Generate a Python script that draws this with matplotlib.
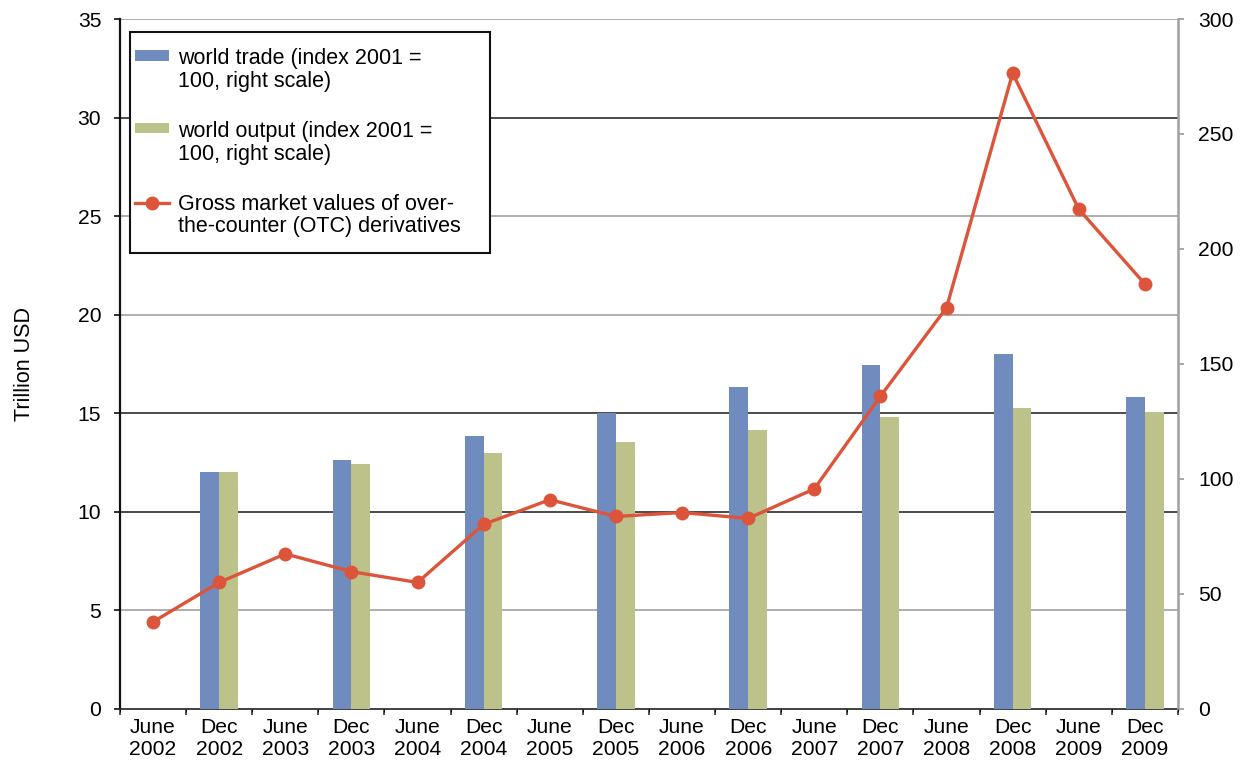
import numpy as np
import matplotlib
matplotlib.use("Agg")
import matplotlib.pyplot as plt
from matplotlib.lines import Line2D
from matplotlib.patches import Patch, Rectangle
from matplotlib.legend_handler import HandlerBase

plt.rcParams["font.family"] = ["Liberation Sans", "DejaVu Sans"]

# Half-year periods on the category axis
periods = ["June\n2002", "Dec\n2002", "June\n2003", "Dec\n2003", "June\n2004", "Dec\n2004",
           "June\n2005", "Dec\n2005", "June\n2006", "Dec\n2006", "June\n2007", "Dec\n2007",
           "June\n2008", "Dec\n2008", "June\n2009", "Dec\n2009"]

# Gross market values of OTC derivatives, trillion USD (left scale)
otc_values = [4.4, 6.4, 7.85, 6.95, 6.4, 9.35, 10.6, 9.75,
              9.95, 9.65, 11.15, 15.85, 20.35, 32.25, 25.35, 21.55]

# Annual indices (2001 = 100), reported for December only (right scale)
nan = np.nan
world_trade = [nan, 102.9, nan, 108.1, nan, 118.6, nan, 128.6,
               nan, 139.7, nan, 149.6, nan, 154.3, nan, 135.6]
world_output = [nan, 102.9, nan, 106.4, nan, 111.0, nan, 115.8,
                nan, 121.0, nan, 127.0, nan, 130.9, nan, 129.0]

left_ticks = [0, 5, 10, 15, 20, 25, 30, 35]
right_ticks = [0, 50, 100, 150, 200, 250, 300]
dark_grid = {10, 15, 30}

BLUE = "#708CBE"
GREEN = "#BDC28B"
RED = "#DC553A"
FS = 15.2
KEY_X0 = -0.51   # key starts slightly left of its slot (in font sizes)
KEY_W = 1.58     # key length (in font sizes)


class FirstLinePatch(HandlerBase):
    """Legend key drawn as a flat bar beside the first line of a two-line label."""
    def create_artists(self, legend, orig_handle, xdescent, ydescent,
                       width, height, fontsize, trans):
        h = 0.47 * fontsize
        yc = 1.05 * fontsize
        r = Rectangle((KEY_X0 * fontsize, yc - h / 2), KEY_W * fontsize, h,
                      facecolor=orig_handle.get_facecolor(), edgecolor="none",
                      transform=trans)
        return [r]


class FirstLineMarker(HandlerBase):
    """Line-and-marker key beside the first line of a two-line label."""
    def create_artists(self, legend, orig_handle, xdescent, ydescent,
                       width, height, fontsize, trans):
        yc = 0.97 * fontsize
        x0 = KEY_X0 * fontsize
        x1 = x0 + KEY_W * fontsize
        ln = Line2D([x0, x1], [yc, yc],
                    color=orig_handle.get_color(), lw=orig_handle.get_linewidth(),
                    transform=trans)
        mk = Line2D([(x0 + x1) / 2], [yc], marker="o", ls="none",
                    ms=orig_handle.get_markersize(), color=orig_handle.get_color(),
                    transform=trans)
        return [ln, mk]


fig = plt.figure(figsize=(12.41, 7.63), dpi=100)
rect = [0.0967, 0.0714, 0.8525, 0.9036]

# Base axes: left scale, grid lines
ax = fig.add_axes(rect)
x = np.arange(len(periods))
ax.set_xlim(-0.5, len(periods) - 0.5)
ax.set_ylim(0, 35)
ax.set_yticks(left_ticks)
for v in left_ticks[1:]:
    ax.axhline(v, color="#3c3c3c" if v in dark_grid else "#a8a8a8",
               lw=1.3, zorder=0)

# Bars on the right-hand index scale
ax2 = ax.twinx()
ax2.set_ylim(0, 300)
ax2.set_yticks(right_ticks)
w = 0.283
ax2.bar(x - w / 2, world_trade, width=w, color=BLUE, zorder=2)
ax2.bar(x + w / 2, world_output, width=w, color=GREEN, zorder=2)

# Derivatives line on top, sharing the left scale
ax3 = fig.add_axes(rect, sharex=ax, sharey=ax, frameon=False)
ax3.plot(x, otc_values, color=RED, lw=2.4, marker="o", ms=9, zorder=3)
ax3.tick_params(left=False, bottom=False, labelleft=False, labelbottom=False)

# Category axis: labels centred, tick marks on boundaries
ax.set_xticks(x)
ax.set_xticklabels(periods, fontsize=FS, linespacing=1.2)
ax.set_xticks(np.arange(-0.5, len(periods)), minor=True)
ax.tick_params(axis="x", which="major", length=0, pad=7)
ax.tick_params(axis="x", which="minor", length=4, width=1.2, color="#333333")
ax.tick_params(axis="y", labelsize=FS, length=4.5, width=1.3, color="#222222", pad=9)
ax2.tick_params(axis="y", labelsize=FS, length=4.5, width=1.3, color="#a0a0a0", pad=10)

for a in (ax, ax2):
    a.spines["top"].set_visible(False)
ax.spines["left"].set_linewidth(1.6)
ax.spines["left"].set_color("#111111")
ax.spines["bottom"].set_linewidth(1.3)
ax.spines["bottom"].set_color("#333333")
ax.spines["right"].set_visible(False)
ax2.spines["left"].set_visible(False)
ax2.spines["bottom"].set_visible(False)
ax2.spines["right"].set_color("#a0a0a0")
ax2.spines["right"].set_linewidth(1.8)

ax.set_ylabel("Trillion USD", fontsize=15.5, labelpad=31)

handles = [
    Patch(color=BLUE),
    Patch(color=GREEN),
    Line2D([], [], color=RED, lw=2.4, marker="o", ms=9),
]
labels = [
    "world trade (index 2001 =\n100, right scale)",
    "world output (index 2001 =\n100, right scale)",
    "Gross market values of over-\nthe-counter (OTC) derivatives",
]
leg = ax3.legend(handles, labels, loc="upper left",
                 bbox_to_anchor=(0.0095, 0.0, 0.340, 0.981), mode="expand",
                 fontsize=15.5, frameon=True, fancybox=False, handlelength=1.1,
                 handletextpad=0.39, labelspacing=1.35,
                 borderpad=0.75, borderaxespad=0, framealpha=1,
                 handler_map={Patch: FirstLinePatch(), Line2D: FirstLineMarker()})
for t in leg.get_texts():
    t.set_linespacing(1.1)
leg.get_frame().set_edgecolor("#111111")
leg.get_frame().set_linewidth(1.5)

fig.savefig("out.png", dpi=100)
